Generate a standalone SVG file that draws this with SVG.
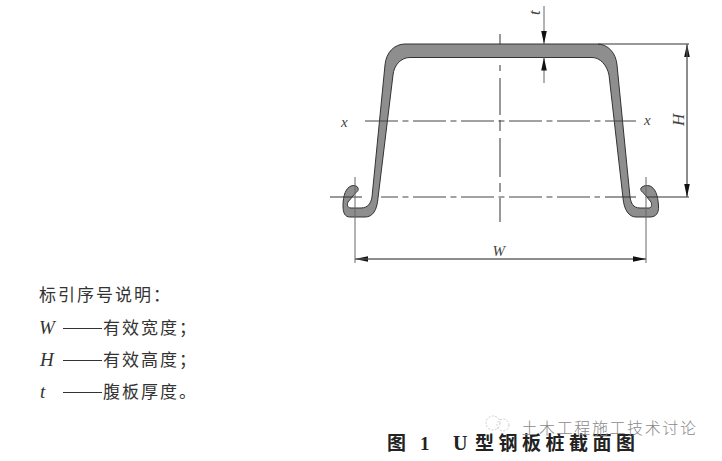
<svg xmlns="http://www.w3.org/2000/svg" width="722" height="461" viewBox="0 0 722 461">
<style>
.ax{fill:none;stroke:#444;stroke-width:1;stroke-dasharray:33 4.500 6 4.500}
.dim{fill:none;stroke:#666;stroke-width:1}
.ln{fill:none;stroke:#333;stroke-width:1}
.sym{font-family:"Liberation Serif",serif;font-style:italic;font-size:15px;fill:#444}
.leg{font-family:"Noto Sans CJK SC",sans-serif;font-size:17px;letter-spacing:2px;fill:#333}
.legs{font-family:"Liberation Serif",serif;font-style:italic;font-size:19px;fill:#333}
.ttl{font-family:"Noto Sans CJK SC",sans-serif;font-size:19px;font-weight:700;letter-spacing:4.500px;fill:#222}
</style>
<defs>
<marker id="a" markerUnits="userSpaceOnUse" markerWidth="13" markerHeight="6" refX="13" refY="3" orient="auto"><path d="M0 .2L13 3L0 5.8Z" fill="#111"/></marker>
</defs>
<rect width="722" height="461" fill="#fff"/>
<g id="profile">
<path d="M405 44H597C608 44 616 53 617 65L630 197C631 203 633 208 640 208H649C652 208 652 204 651 202L644 193.500C642 192 640 190 641 188C643 185.500 647 185 650 186C655 188 658 195 658.500 206C659 213 656 217 650 217H636C629 217 624 210 623 198L609 75C607 65 600 57.500 592 57.500H410C401 57.500 394 65 393 75L378 198C377 210 373 217 365 217H350C345 217 343 213 343 206C343 195 346 188 351 186C354 185 357 185.500 358 188C359 190 357 192 355 193.500L348 202C347 204 347 208 351 208H361C368 208 371 203 372 197L385 65C386 53 394 44 405 44Z" fill="#8e8e8e" stroke="#333" stroke-width="1"/>
</g>
<g id="connectors">
<path class="ln" stroke-linecap="butt" d="M500 34V44M500 65V71M500 78V115M500 120V131M500 138V177M500 183V192M500 198V222"/>
<path class="ax" d="M365 121H636"/>
<path class="ln" d="M330 197H362"/>
<path class="ax" stroke-dashoffset="16" d="M381 197H600"/>
<path class="ln" d="M605 197H636M647 197H689"/>
<path class="ln" d="M598 44H689"/>
<path class="dim" d="M355 177V263M646 177V263"/>
<path class="dim" d="M687 197V44" marker-end="url(#a)"/>
<path class="dim" d="M687 44V197" marker-end="url(#a)"/>
<path class="dim" d="M646 259H355" marker-end="url(#a)"/>
<path class="dim" d="M355 259H646" marker-end="url(#a)"/>
<path class="dim" d="M544 6V44" marker-end="url(#a)"/>
<path class="dim" d="M544 83V57.500" marker-end="url(#a)"/>
</g>
<g id="labels">
<text class="sym" x="341" y="127">x</text>
<text class="sym" x="644" y="125">x</text>
<text class="sym" x="492.500" y="256">W</text>
<text class="sym" style="font-size:17px" transform="translate(684 126) rotate(-90)">H</text>
<text class="sym" style="font-size:17px" transform="translate(540 15) rotate(-90)">t</text>
</g>
<g id="legend">
<text class="leg" x="39" y="301">标引序号说明：</text>
<text class="legs" x="39" y="334">W</text>
<text class="legs" x="40" y="366">H</text>
<text class="legs" x="40" y="398">t</text>
<path class="ln" d="M63 328.500H102M63 360.500H102M63 392.500H102"/>
<text class="leg" x="103" y="334">有效宽度；</text>
<text class="leg" x="103" y="366">有效高度；</text>
<text class="leg" x="103" y="398">腹板厚度。</text>
</g>
<g id="title">
<text class="ttl" x="387" y="450">图</text>
<text x="420" y="450" style="font-family:'Liberation Serif',serif;font-size:19px;font-weight:700;fill:#222">1</text>
<text x="453" y="450" style="font-family:'Liberation Serif',serif;font-size:20px;font-weight:700;fill:#222">U</text>
<text class="ttl" x="475" y="450">型钢板桩截面图</text>
</g>
<g id="watermark">
<circle cx="493" cy="423" r="7" fill="none" stroke="#ccc" stroke-dasharray="2 1.500"/>
<circle cx="503" cy="425" r="6" fill="none" stroke="#ccc" stroke-dasharray="2 1.500"/>
<text x="521.500" y="434" style="font-family:'Noto Sans CJK SC',sans-serif;font-size:16px;font-weight:300;letter-spacing:1.600px;fill:#8a8a8a">土木工程施工技术讨论</text>
</g>
</svg>
